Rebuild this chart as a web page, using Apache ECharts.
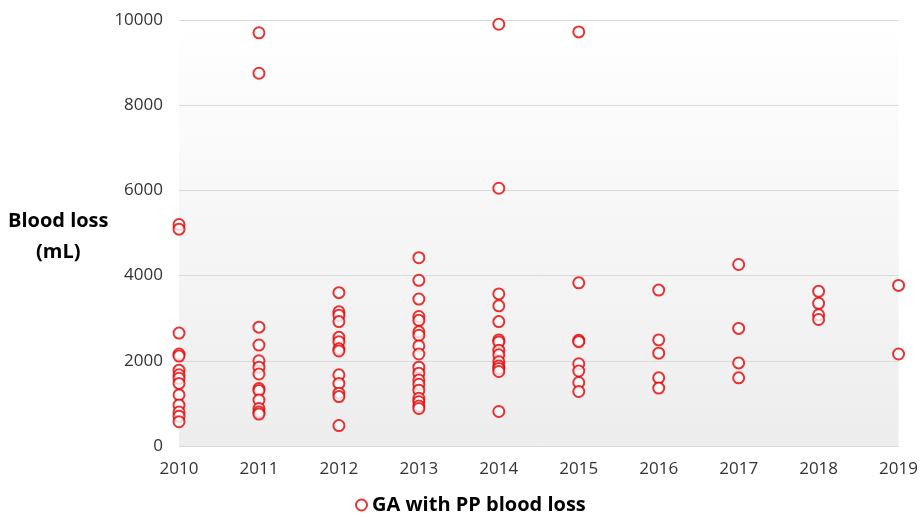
<!DOCTYPE html>
<html>
<head>
<meta charset="utf-8">
<script src="https://cdn.jsdelivr.net/npm/echarts@6/dist/echarts.min.js"></script>
<style>
  html, body { margin: 0; padding: 0; background: #fff; }
  #chart { width: 921px; height: 517px; }
</style>
</head>
<body>
<div id="chart"></div>
<script>
// blood loss (mL) per case, grouped by year
const years = [2010, 2011, 2012, 2013, 2014, 2015, 2016, 2017, 2018, 2019];
const loss2010 = [5200, 5090, 2650, 2160, 2110, 1780, 1670, 1590, 1470, 1200, 960, 800, 700, 570];
const loss2011 = [9700, 8750, 2790, 2370, 2000, 1850, 1690, 1350, 1300, 1080, 880, 800, 750];
const loss2012 = [3600, 3150, 3070, 2920, 2550, 2450, 2280, 2230, 1670, 1470, 1240, 1160, 480];
const loss2013 = [4420, 3890, 3450, 3040, 2950, 2680, 2600, 2350, 2160, 1850, 1710, 1550, 1450, 1310, 1120, 1040, 940, 880];
const loss2014 = [9900, 6050, 3570, 3290, 2920, 2490, 2440, 2250, 2140, 1980, 1880, 1820, 1750, 810];
const loss2015 = [9720, 3830, 2480, 2450, 1930, 1760, 1490, 1280];
const loss2016 = [3660, 2490, 2180, 1600, 1360];
const loss2017 = [4260, 2760, 1950, 1600];
const loss2018 = [3630, 3350, 3080, 2970];
const loss2019 = [3770, 2160];
const lossByYear = [loss2010, loss2011, loss2012, loss2013, loss2014, loss2015, loss2016, loss2017, loss2018, loss2019];
const yTicks = [0, 2000, 4000, 6000, 8000, 10000];

const points = [];
years.forEach(function (yr, i) {
  lossByYear[i].forEach(function (v) { points.push([yr, v]); });
});

const chart = echarts.init(document.getElementById('chart'));
const font = '"Open Sans", "Liberation Sans", sans-serif';

chart.setOption({
  animation: false,
  textStyle: { fontFamily: font },
  grid: {
    left: 179, right: 22, top: 20, bottom: 71,
    show: true,
    borderWidth: 0,
    backgroundColor: new echarts.graphic.LinearGradient(0, 0, 0, 1, [
      { offset: 0, color: '#ffffff' },
      { offset: 1, color: '#ededed' }
    ])
  },
  legend: {
    left: 350,
    top: 490,
    icon: 'emptyCircle',
    itemWidth: 11,
    itemHeight: 11,
    itemGap: 8,
    textStyle: { fontFamily: font, fontSize: 20, fontWeight: 'bold', color: '#000' },
    data: ['GA with PP blood loss']
  },
  xAxis: {
    type: 'value',
    min: years[0],
    max: years[years.length - 1],
    interval: 1,
    axisLine: { show: false },
    axisTick: { show: false },
    splitLine: { show: false },
    axisLabel: {
      margin: 15,
      fontSize: 17,
      color: '#333',
      formatter: function (v) { return String(v); }
    }
  },
  yAxis: {
    type: 'value',
    min: yTicks[0],
    max: yTicks[yTicks.length - 1],
    interval: 2000,
    name: '{n|Blood loss}\n{n|(mL)}',
    nameLocation: 'middle',
    nameRotate: 0,
    nameGap: 119,
    nameTextStyle: {
      fontFamily: font, fontSize: 20, fontWeight: 'bold', color: '#000',
      align: 'center',
      rich: {
        n: { fontFamily: font, fontSize: 20, fontWeight: 'bold', color: '#000', lineHeight: 31, padding: [8, 0, 0, 0] }
      }
    },
    axisLine: { show: false },
    axisTick: { show: false },
    splitLine: { lineStyle: { color: '#d9d9d9', width: 1 } },
    axisLabel: {
      margin: 16,
      fontSize: 17,
      color: '#333',
      formatter: function (v) { return String(v); }
    }
  },
  series: [{
    name: 'GA with PP blood loss',
    type: 'scatter',
    symbol: 'emptyCircle',
    symbolSize: 11,
    itemStyle: { color: '#e50000', borderColor: '#e50000', borderWidth: 1.5 },
    data: points
  }]
});
</script>
</body>
</html>
